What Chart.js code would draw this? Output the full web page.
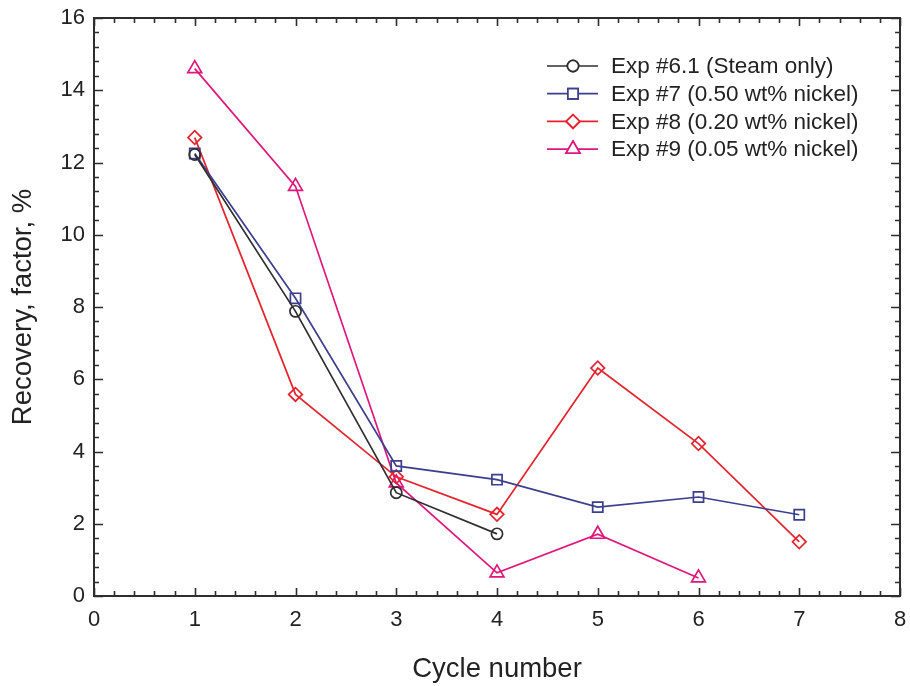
<!DOCTYPE html>
<html>
<head>
<meta charset="utf-8">
<script src="https://cdn.jsdelivr.net/npm/chart.js@4/dist/chart.umd.min.js"></script>
<style>
  html, body { margin: 0; padding: 0; background: #ffffff; }
  #wrap { width: 910px; height: 686px; }
</style>
</head>
<body>
<div id="wrap"><canvas id="c" width="910" height="686"></canvas></div>
<script>
// Cycle numbers and recovery factors (%) per experiment
const cycles = [1, 2, 3, 4, 5, 6, 7];
const exp61 = [12.22, 7.88, 2.86, 1.72];
const exp7  = [12.25, 8.24, 3.60, 3.22, 2.46, 2.74, 2.25];
const exp8  = [12.69, 5.58, 3.30, 2.26, 6.31, 4.22, 1.50];
const exp9  = [14.60, 11.34, 3.13, 0.64, 1.71, 0.50];

const seriesNames = [
  'Exp #6.1 (Steam only)',
  'Exp #7 (0.50 wt% nickel)',
  'Exp #8 (0.20 wt% nickel)',
  'Exp #9 (0.05 wt% nickel)'
];

const xTicks = [0, 1, 2, 3, 4, 5, 6, 7, 8];
const yTicks = [0, 2, 4, 6, 8, 10, 12, 14, 16];

const FONT = '"Liberation Sans", Arial, Helvetica, sans-serif';
const AXIS = '#2e2e2e';

function pts(vals) {
  return vals.map((v, i) => ({ x: cycles[i], y: v }));
}

function series(label, vals, color, style, radius) {
  return {
    label: label,
    data: pts(vals),
    borderColor: color,
    backgroundColor: 'rgba(0,0,0,0)',
    borderWidth: 1.7,
    pointStyle: style,
    pointRadius: radius,
    pointHoverRadius: radius,
    pointBorderColor: color,
    pointBackgroundColor: 'rgba(0,0,0,0)',
    pointBorderWidth: 1.7,
    tension: 0
  };
}

const datasets = [
  series(seriesNames[0], exp61, '#2f2f2f', 'circle', 5.6),
  series(seriesNames[1], exp7,  '#3b3f8e', 'rect', 7.2),
  series(seriesNames[2], exp8,  '#e5232e', 'rectRot', 6.8),
  series(seriesNames[3], exp9,  '#e0167c', 'triangle', 8)
];

// Frame with inward major/minor ticks on all four sides
const framePlugin = {
  id: 'frame',
  afterDraw(chart) {
    const { ctx, chartArea: a, scales } = chart;
    const xs = scales.x, ys = scales.y;
    ctx.save();
    ctx.strokeStyle = AXIS;
    ctx.lineWidth = 1.6;
    for (let i = 0; i <= 40; i++) {
      const v = i * 0.2;
      const major = i % 5 === 0;
      const len = major ? 8 : 5;
      const px = Math.round(xs.getPixelForValue(v)) + 0.5;
      ctx.beginPath();
      ctx.moveTo(px, a.bottom); ctx.lineTo(px, a.bottom - len);
      ctx.moveTo(px, a.top); ctx.lineTo(px, a.top + len);
      ctx.stroke();
    }
    for (let i = 0; i <= 40; i++) {
      const v = i * 0.4;
      const major = i % 5 === 0;
      const len = major ? 9 : 5;
      const py = Math.round(ys.getPixelForValue(v)) + 0.5;
      ctx.beginPath();
      ctx.moveTo(a.left, py); ctx.lineTo(a.left + len, py);
      ctx.moveTo(a.right, py); ctx.lineTo(a.right - len, py);
      ctx.stroke();
    }
    ctx.lineWidth = 2;
    ctx.strokeRect(a.left, a.top, a.right - a.left, a.bottom - a.top);
    ctx.restore();
  }
};

// Legend: line segment with the series marker in its middle
const legendPlugin = {
  id: 'lineLegend',
  afterDraw(chart) {
    const ctx = chart.ctx;
    const x0 = 547, x1 = 598, xm = 573, tx = 611;
    const y0 = 66, dy = 27.7;
    ctx.save();
    chart.data.datasets.forEach((ds, i) => {
      const y = y0 + i * dy;
      ctx.strokeStyle = ds.borderColor;
      ctx.lineWidth = ds.borderWidth;
      ctx.beginPath();
      ctx.moveTo(x0, y); ctx.lineTo(x1, y);
      ctx.stroke();
      ctx.fillStyle = '#ffffff';
      ctx.lineWidth = ds.pointBorderWidth;
      Chart.helpers.drawPoint(ctx, {
        pointStyle: ds.pointStyle,
        radius: ds.pointRadius,
        borderWidth: ds.pointBorderWidth,
        rotation: 0
      }, xm, y);
      ctx.fill();
      ctx.stroke();
      ctx.fillStyle = '#222222';
      ctx.font = '22.5px ' + FONT;
      ctx.textAlign = 'left';
      ctx.textBaseline = 'middle';
      ctx.fillText(ds.label, tx, y + 1);
    });
    ctx.restore();
  }
};

new Chart(document.getElementById('c'), {
  type: 'line',
  data: { datasets: datasets },
  plugins: [framePlugin, legendPlugin],
  options: {
    responsive: false,
    animation: false,
    events: [],
    layout: { padding: { top: 18, right: 10, left: 0, bottom: 0 } },
    plugins: { legend: { display: false }, tooltip: { enabled: false } },
    scales: {
      x: {
        type: 'linear',
        min: 0, max: 8,
        afterBuildTicks(s) { s.ticks = xTicks.map(v => ({ value: v })); },
        afterFit(s) { s.height = 90; s.paddingLeft = 0; s.paddingRight = 0; },
        grid: { display: false, drawTicks: false },
        border: { display: false },
        ticks: {
          padding: 11,
          color: '#222222',
          font: { family: FONT, size: 22 },
          maxRotation: 0
        },
        title: {
          display: true,
          text: 'Cycle number',
          color: '#222222',
          font: { family: FONT, size: 27.5 },
          padding: { top: 0, bottom: 0 }
        }
      },
      y: {
        type: 'linear',
        min: 0, max: 16,
        afterBuildTicks(s) { s.ticks = yTicks.map(v => ({ value: v })); },
        afterFit(s) { s.width = 94; s.paddingTop = 0; s.paddingBottom = 0; },
        grid: { display: false, drawTicks: false },
        border: { display: false },
        ticks: {
          padding: 9,
          color: '#222222',
          font: { family: FONT, size: 22 }
        },
        title: {
          display: true,
          text: 'Recovery, factor, %',
          color: '#222222',
          font: { family: FONT, size: 27.5 },
          padding: { top: 7, bottom: 0 }
        }
      }
    }
  }
});
</script>
</body>
</html>
